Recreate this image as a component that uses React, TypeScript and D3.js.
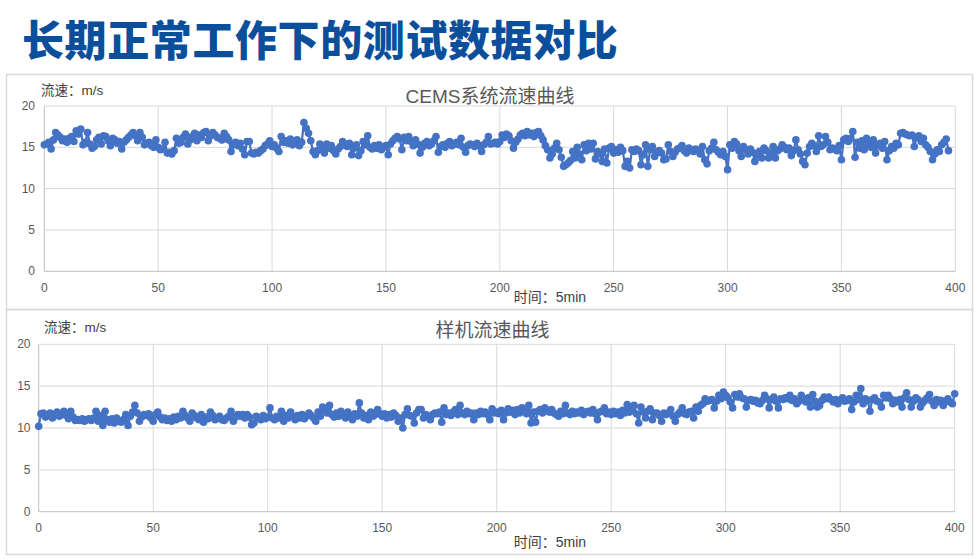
import React from "react";
import * as d3 from "d3";

const pageTitle = "长期正常工作下的测试数据对比";
const cemsTitle = "CEMS系统流速曲线";
const sampleTitle = "样机流速曲线";
const yAxisLabel = "流速：m/s";
const xAxisLabel = "时间：5min";
const xTicks = [0, 50, 100, 150, 200, 250, 300, 350, 400];
const yTicks = [0, 5, 10, 15, 20];

const cemsValues = [
  15.3, 15.4, 15.6, 14.8, 15.9, 16.8, 16.5, 16.2, 15.8, 16.0,
  15.6, 16.1, 16.3, 15.7, 17.0, 16.6, 17.2, 15.3, 15.6, 16.8,
  15.4, 14.9, 15.1, 15.9, 16.2, 15.4, 16.4, 16.3, 15.8, 15.2,
  16.1, 15.9, 15.5, 15.7, 14.8, 15.6, 15.9, 16.2, 16.5, 16.8,
  16.4, 15.8, 16.8, 16.2, 15.3, 15.5, 15.6, 15.2, 15.0, 15.9,
  15.0, 14.7, 14.8, 15.6, 14.3, 14.4, 14.2, 14.6, 16.1, 15.5,
  15.6, 16.2, 16.6, 15.4, 15.9, 16.3, 16.7, 15.8, 16.5, 16.2,
  16.8, 16.9, 15.8, 16.4, 16.8, 16.5, 16.2, 16.1, 15.9, 16.7,
  16.3, 15.9, 14.5, 15.3, 15.6, 15.2, 15.5, 14.8, 14.1, 15.7,
  15.7, 14.3, 14.2, 14.4, 14.3, 14.6, 14.8, 15.2, 15.4, 15.8,
  15.1, 15.3, 14.9, 14.5, 16.3, 15.6, 15.8, 15.5, 16.0, 15.3,
  15.5, 15.9, 15.2, 15.6, 18.0, 17.3, 16.7, 15.8, 14.5, 14.1,
  14.6, 15.4, 14.8, 14.3, 15.4, 14.9, 15.2, 14.6, 14.2, 14.8,
  15.1, 15.7, 15.4, 15.1, 15.5, 14.1, 14.9, 15.3, 14.0, 14.6,
  15.7, 15.3, 16.4, 15.0, 14.8, 15.2, 14.9, 15.3, 14.7, 15.0,
  15.2, 14.1, 15.4, 15.8, 16.1, 16.3, 16.0, 14.7, 16.2, 15.8,
  16.3, 15.7, 15.2, 15.9, 15.4, 14.3, 15.0, 15.5, 15.7, 15.2,
  15.4, 15.8, 16.3, 14.4, 15.1, 15.3, 15.0, 15.5, 15.7, 15.2,
  15.4, 15.6, 15.3, 16.1, 15.0, 14.4, 15.2, 15.4, 15.3, 15.1,
  15.5, 15.2, 14.5, 15.3, 15.6, 16.3, 15.4, 15.5, 15.6, 15.4,
  15.7, 16.5, 16.2, 16.6, 16.4, 15.8, 14.9, 15.6, 16.0, 16.5,
  16.7, 16.4, 16.9, 16.5, 16.7, 16.3, 16.8, 16.9, 16.4, 15.9,
  15.2, 14.7, 13.7, 14.2, 14.9, 15.5, 14.7, 13.8, 12.7, 12.9,
  13.1, 13.4, 14.5, 13.7, 15.0, 14.2, 13.5, 15.3, 14.6, 15.5,
  14.8, 15.5, 13.6, 14.5, 14.2, 13.3, 14.8, 13.1, 14.9, 15.1,
  14.3, 14.7, 14.4, 15.0, 14.6, 12.7, 13.3, 12.5, 14.7, 14.5,
  14.8, 14.6, 12.9, 14.1, 15.3, 12.7, 14.7, 15.1, 13.9, 14.4,
  14.6, 14.3, 13.5, 13.6, 15.3, 14.5, 13.9, 14.4, 14.8, 14.9,
  15.2, 14.6, 14.3, 14.9, 14.7, 14.5, 14.8, 14.6, 14.2, 15.1,
  13.5, 13.0, 14.6, 14.9, 15.6, 14.7, 14.4, 14.1, 14.5, 13.9,
  12.3, 15.3, 14.9, 15.7, 15.4, 14.6, 13.9, 15.1, 14.7, 14.2,
  14.8, 14.4, 13.3, 14.1, 14.5, 13.7, 14.9, 14.6, 13.7, 14.3,
  15.1, 13.7, 14.6, 14.8, 15.3, 15.0, 14.7, 14.9, 14.0, 14.6,
  15.9, 14.7, 14.2, 13.3, 12.9, 14.3, 15.1, 15.5, 15.2, 14.5,
  16.4, 15.1, 15.3, 16.3, 15.6, 14.7, 14.9, 14.8, 14.6, 15.2,
  13.5, 15.9, 16.1, 15.7, 16.1, 16.9, 13.8, 15.6, 14.9, 15.8,
  14.7, 16.1, 15.4, 15.0, 15.9, 14.3, 15.2, 15.5, 14.9, 15.7,
  13.5, 14.6, 15.1, 14.9, 15.5, 15.3, 16.7, 16.8, 16.6, 16.5,
  16.4, 16.5, 15.1, 16.2, 16.4, 15.7, 16.1, 15.3, 15.0, 14.5,
  13.5, 14.2, 14.7, 14.5, 15.3, 15.6, 16.0, 14.6,
];

const sampleValues = [
  10.2, 11.7, 11.8, 11.3, 11.5, 11.8, 11.2, 11.6, 11.9, 11.4,
  11.6, 12.0, 11.5, 11.1, 12.0, 11.3, 10.9, 11.0, 10.9, 11.1,
  10.8, 11.0, 11.1, 10.9, 11.2, 12.0, 10.8, 11.5, 10.3, 12.0,
  11.0, 10.7, 11.1, 10.6, 11.2, 10.8, 10.7, 11.0, 11.6, 10.3,
  11.4, 11.9, 12.7, 11.8, 10.8, 11.3, 11.6, 11.5, 11.7, 11.2,
  10.8, 11.6, 11.9, 11.3, 11.0, 11.2, 10.9, 11.1, 10.8, 11.3,
  11.0, 11.4, 11.2, 12.0, 11.5, 11.2, 10.8, 11.8, 11.5, 11.2,
  11.0, 11.6, 10.7, 11.3, 11.1, 11.9, 11.5, 11.0, 11.2, 11.4,
  11.0, 10.9, 11.2, 11.4, 12.0, 10.8, 11.3, 11.6, 11.4, 11.6,
  11.2, 11.6, 11.3, 10.4, 10.6, 11.4, 11.2, 11.0, 11.5, 11.1,
  11.3, 12.4, 11.2, 11.0, 11.4, 11.2, 12.0, 10.8, 11.5, 11.2,
  11.9, 11.4, 11.0, 11.5, 11.2, 11.6, 11.1, 11.4, 11.8, 11.5,
  11.2, 10.8, 11.9, 11.4, 12.5, 12.0, 11.8, 12.7, 11.6, 11.3,
  11.8, 11.4, 12.0, 11.6, 11.2, 11.9, 11.5, 11.0, 11.7, 11.4,
  13.0, 11.8, 11.2, 11.5, 11.0, 11.9, 11.4, 11.6, 12.2, 11.7,
  11.4, 11.7, 11.2, 11.6, 11.3, 11.8, 11.5, 10.8, 11.2, 10.0,
  11.6, 12.3, 11.5, 11.4, 10.6, 11.8, 12.2, 12.2, 11.2, 11.6,
  11.4, 11.0, 11.6, 11.8, 11.7, 11.9, 10.7, 12.4, 11.6, 11.8,
  11.5, 11.9, 12.2, 11.6, 12.7, 11.8, 11.6, 12.0, 11.7, 11.8,
  11.0, 11.8, 11.6, 12.0, 11.7, 11.9, 11.6, 11.0, 12.3, 11.8,
  11.9, 11.7, 12.1, 11.0, 11.8, 12.3, 11.9, 12.1, 11.6, 12.2,
  11.8, 12.4, 12.0, 11.7, 12.7, 10.6, 11.9, 10.7, 12.0, 12.2,
  11.8, 12.4, 12.1, 11.9, 12.2, 11.8, 11.6, 11.4, 12.0, 11.7,
  12.7, 11.8, 11.6, 12.0, 11.7, 11.9, 11.8, 12.1, 11.6, 11.9,
  12.0, 11.8, 12.2, 11.7, 11.0, 11.9, 12.0, 12.4, 11.7, 11.9,
  11.6, 12.0, 11.7, 11.9, 11.5, 12.1, 11.8, 12.8, 11.9, 12.2,
  12.7, 11.7, 10.6, 12.5, 11.9, 11.2, 12.0, 12.3, 11.0, 11.8,
  11.8, 11.5, 10.8, 11.8, 11.6, 11.8, 12.2, 11.4, 10.8, 11.6,
  11.9, 12.4, 11.7, 11.6, 11.9, 12.0, 11.2, 12.5, 12.0, 12.7,
  12.9, 13.5, 13.2, 13.3, 13.4, 12.4, 13.2, 13.9, 13.5, 14.3,
  13.9, 13.6, 13.1, 12.4, 14.0, 13.7, 14.1, 13.6, 13.5, 12.5,
  13.3, 13.4, 13.2, 13.3, 13.0, 12.9, 13.3, 13.9, 13.5, 12.4,
  13.4, 13.7, 13.2, 12.4, 13.5, 13.4, 13.6, 13.5, 13.9, 13.3,
  13.5, 12.9, 13.2, 13.9, 13.4, 13.1, 13.6, 12.5, 14.0, 13.2,
  12.5, 12.7, 13.3, 13.7, 13.5, 13.7, 13.4, 13.1, 13.4, 12.9,
  13.3, 13.6, 13.2, 13.3, 13.5, 12.2, 13.1, 13.9, 13.4, 14.7,
  12.9, 13.5, 13.3, 12.0, 13.4, 13.6, 13.2, 13.1, 12.5, 13.9,
  13.6, 13.9, 13.5, 12.9, 13.3, 13.1, 13.4, 12.5, 13.6, 14.2,
  13.4, 12.5, 13.2, 13.6, 13.4, 12.5, 13.0, 13.3, 13.6, 14.0,
  13.2, 12.7, 13.4, 13.1, 13.3, 12.7, 13.2, 13.5, 13.1, 12.9,
  14.1,
];

const FONT = "'Liberation Sans', Arial, 'Noto Sans CJK SC', sans-serif";
const LINE_COLOR = "#4472C4";
const GRID = "#d9d9d9";
const AXIS = "#bfbfbf";
const TEXT = "#595959";

type ChartProps = {
  values: number[];
  title: string;
  left: number;
  right: number;
  top: number;
  bottom: number;
  titleX: number;
  titleY: number;
  yLabelX: number;
  yLabelY: number;
  yTickGap: number;
  xLabelY: number;
  xTitleY: number;
};

function Chart(p: ChartProps) {
  const x = d3.scaleLinear().domain([0, 400]).range([p.left, p.right]);
  const y = d3.scaleLinear().domain([0, 20]).range([p.bottom, p.top]);
  const pts = p.values.map((v, i) => [i, v] as [number, number]);
  const line = d3
    .line<[number, number]>()
    .x((d) => x(d[0]))
    .y((d) => y(d[1]));
  return (
    <g>
      {xTicks.map((t) => (
        <line key={"gx" + t} x1={x(t)} x2={x(t)} y1={y(0)} y2={y(20)} stroke={t === 0 ? AXIS : GRID} strokeWidth={1} />
      ))}
      {yTicks.map((t) => (
        <line key={"gy" + t} x1={x(0)} x2={x(400)} y1={y(t)} y2={y(t)} stroke={t === 0 ? AXIS : GRID} strokeWidth={1} />
      ))}
      {xTicks.map((t) => (
        <text key={"tx" + t} x={x(t)} y={p.xLabelY} textAnchor="middle" dominantBaseline="central" fontSize={12} fill={TEXT} fontFamily={FONT}>
          {t}
        </text>
      ))}
      {yTicks.map((t) => (
        <text key={"ty" + t} x={x(0) - p.yTickGap} y={y(t)} textAnchor="end" dominantBaseline="central" fontSize={12} fill={TEXT} fontFamily={FONT}>
          {t}
        </text>
      ))}
      <path d={line(pts) || ""} fill="none" stroke={LINE_COLOR} strokeWidth={2.25} strokeLinejoin="round" />
      {pts.map((d, i) => (
        <circle key={i} cx={x(d[0])} cy={y(d[1])} r={3.8} fill={LINE_COLOR} />
      ))}
      <text x={p.titleX} y={p.titleY} textAnchor="middle" dominantBaseline="central" fontSize={19} fill={TEXT} fontFamily={FONT}>
        {p.title}
      </text>
      <text x={p.yLabelX} y={p.yLabelY} textAnchor="start" dominantBaseline="central" fontSize={13.5} fill="#404040" fontFamily={FONT}>
        {yAxisLabel}
      </text>
      <text x={550} y={p.xTitleY} textAnchor="middle" dominantBaseline="central" fontSize={14} fill="#404040" fontFamily={FONT}>
        {xAxisLabel}
      </text>
    </g>
  );
}

export default function App() {
  return (
    <svg
      width={980}
      height={560}
      viewBox="0 0 980 560"
      style={{ position: "absolute", left: 0, top: 0, background: "#ffffff" }}
    >
      <rect x={0} y={0} width={980} height={560} fill="#ffffff" />
      <text
        x={22}
        y={37}
        dominantBaseline="central"
        fontSize={42}
        fontWeight={900}
        fill="#0B4F9C"
        letterSpacing={0.6}
        fontFamily="'Noto Sans CJK SC', sans-serif"
      >
        {pageTitle}
      </text>
      <rect x={6.5} y={74.5} width={966} height={235} fill="none" stroke={GRID} strokeWidth={1.5} />
      <rect x={6.5} y={309.5} width={966} height={245} fill="none" stroke={GRID} strokeWidth={1.5} />
      <Chart
        values={cemsValues}
        title={cemsTitle}
        left={44.3}
        right={955.3}
        top={106}
        bottom={271.3}
        titleX={490}
        titleY={96.7}
        yLabelX={41}
        yLabelY={90.7}
        yTickGap={9.3}
        xLabelY={288}
        xTitleY={297.3}
      />
      <Chart
        values={sampleValues}
        title={sampleTitle}
        left={38.7}
        right={954.7}
        top={344.3}
        bottom={511.7}
        titleX={492.5}
        titleY={330}
        yLabelX={44}
        yLabelY={327.7}
        yTickGap={8.2}
        xLabelY={527.7}
        xTitleY={541.7}
      />
    </svg>
  );
}
